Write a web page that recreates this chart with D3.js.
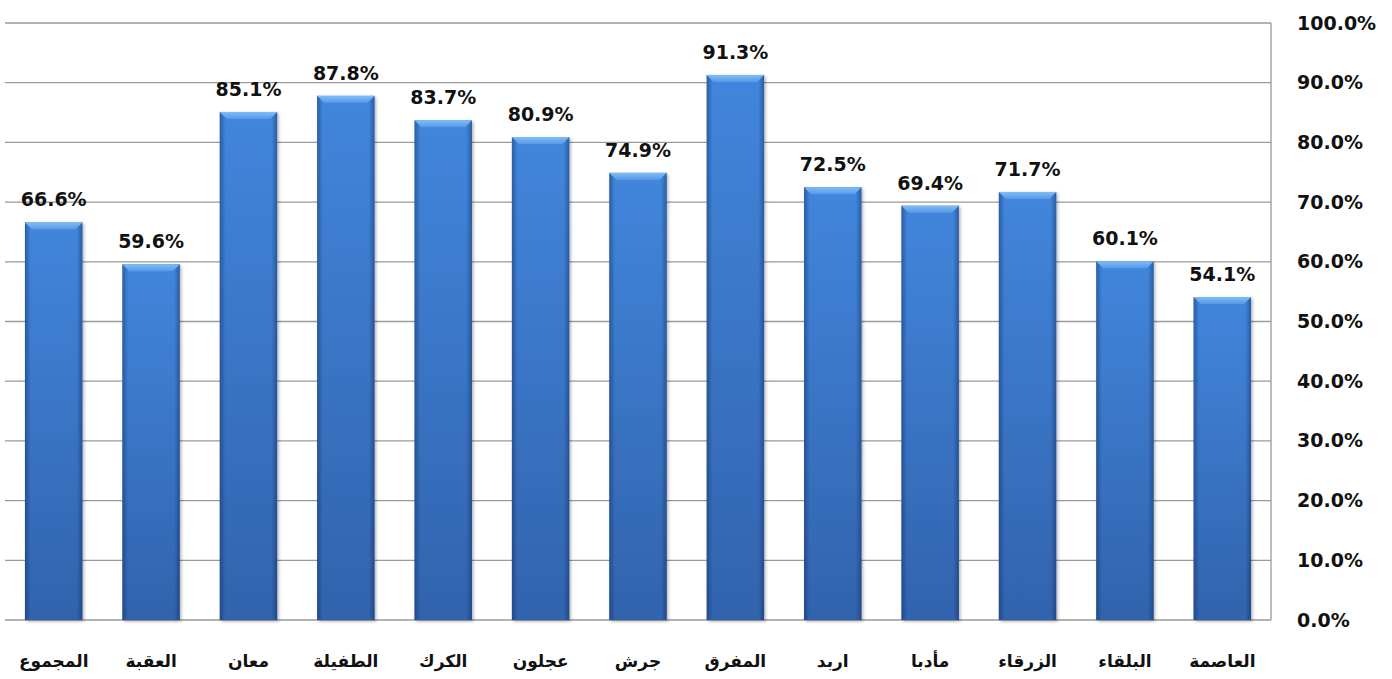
<!DOCTYPE html>
<html><head><meta charset="utf-8">
<script src="https://cdn.jsdelivr.net/npm/d3@7"></script>
<style>
html,body{margin:0;padding:0;background:#fff;}
svg{display:block;}
</style></head>
<body>
<svg id="chart" width="1392" height="679"></svg>
<script>
const categories = ["المجموع","العقبة","معان","الطفيلة","الكرك","عجلون","جرش","المفرق","اربد","مأدبا","الزرقاء","البلقاء","العاصمة"];
const values = [66.6, 59.6, 85.1, 87.8, 83.7, 80.9, 74.9, 91.3, 72.5, 69.4, 71.7, 60.1, 54.1];
const yTicks = [0,10,20,30,40,50,60,70,80,90,100];

const svg = d3.select("#chart");
const plot = {left:5, right:1271, top:23, bottom:620};
const font = "'DejaVu Sans', sans-serif";

const x = d3.scaleBand().domain(categories).range([plot.left, plot.right]).paddingInner(0.41).paddingOuter(0.205);
const y = d3.scaleLinear().domain([0,100]).range([plot.bottom, plot.top]);

const defs = svg.append("defs");
const gv = defs.append("linearGradient").attr("id","gv").attr("x1",0).attr("y1",0).attr("x2",0).attr("y2",1);
gv.append("stop").attr("offset","0%").attr("stop-color","#4186dc");
gv.append("stop").attr("offset","100%").attr("stop-color","#3263ad");
const gh = defs.append("linearGradient").attr("id","gh").attr("x1",0).attr("y1",0).attr("x2",1).attr("y2",0);
gh.append("stop").attr("offset","0%").attr("stop-color","#0a2050").attr("stop-opacity",0.4);
gh.append("stop").attr("offset","10%").attr("stop-color","#0a2050").attr("stop-opacity",0.0);
gh.append("stop").attr("offset","90%").attr("stop-color","#0a2050").attr("stop-opacity",0.0);
gh.append("stop").attr("offset","100%").attr("stop-color","#0a2050").attr("stop-opacity",0.4);
const gt = defs.append("linearGradient").attr("id","gt").attr("x1",0).attr("y1",0).attr("x2",0).attr("y2",1);
gt.append("stop").attr("offset","0%").attr("stop-color","#82bcf7");
gt.append("stop").attr("offset","100%").attr("stop-color","#5799e6");
const sh = defs.append("filter").attr("id","sh").attr("x","-10%").attr("y","-10%").attr("width","130%").attr("height","130%");
sh.append("feDropShadow").attr("dx",1.5).attr("dy",1.5).attr("stdDeviation",1.5).attr("flood-color","#000").attr("flood-opacity",0.3);

// gridlines
svg.append("g").selectAll("line").data(yTicks).join("line")
  .attr("x1",plot.left).attr("x2",plot.right)
  .attr("y1",d=>y(d)).attr("y2",d=>y(d))
  .attr("stroke","#9a9a9a").attr("stroke-width",1.3);
svg.append("line").attr("x1",plot.right).attr("x2",plot.right).attr("y1",plot.top).attr("y2",plot.bottom)
  .attr("stroke","#9a9a9a").attr("stroke-width",1.3);

// y axis on right
const yAxis = d3.axisRight(y).tickValues(yTicks).tickSize(0).tickPadding(0).tickFormat(d=>d.toFixed(1)+"%");
const ya = svg.append("g").attr("transform",`translate(1297,0)`).call(yAxis);
ya.select(".domain").remove();
ya.selectAll("text").attr("font-family",font).attr("font-weight","bold").attr("font-size",19).attr("fill","#111");

// bars
const bw = x.bandwidth();
const bars = svg.append("g").selectAll("g").data(categories.map((c,i)=>({c,v:values[i]}))).join("g")
  .attr("transform",d=>`translate(${x(d.c)},0)`);
bars.append("rect").attr("x",0).attr("y",d=>y(d.v)).attr("width",bw).attr("height",d=>y(0)-y(d.v))
  .attr("fill","url(#gv)").attr("filter","url(#sh)");
bars.append("rect").attr("x",0).attr("y",d=>y(d.v)).attr("width",bw).attr("height",d=>y(0)-y(d.v))
  .attr("fill","url(#gh)");
const bv = 7;
bars.append("polygon").attr("points",d=>{const t=y(d.v);return `0,${t} ${bw},${t} ${bw-bv},${t+bv} ${bv},${t+bv}`;})
  .attr("fill","url(#gt)");

// value labels
bars.append("text").attr("x",bw/2).attr("y",d=>y(d.v)-16)
  .attr("text-anchor","middle").attr("font-family",font).attr("font-weight","bold").attr("font-size",19).attr("fill","#111")
  .text(d=>d.v.toFixed(1)+"%");

// category labels
const xAxis = d3.axisBottom(x).tickSize(0).tickPadding(0);
const xa = svg.append("g").attr("transform",`translate(0,655)`).call(xAxis);
xa.select(".domain").remove();
xa.selectAll("text").attr("font-family",font).attr("font-weight","bold").attr("font-size",17).attr("fill","#111").attr("dy","0.7em");
</script>
</body></html>
